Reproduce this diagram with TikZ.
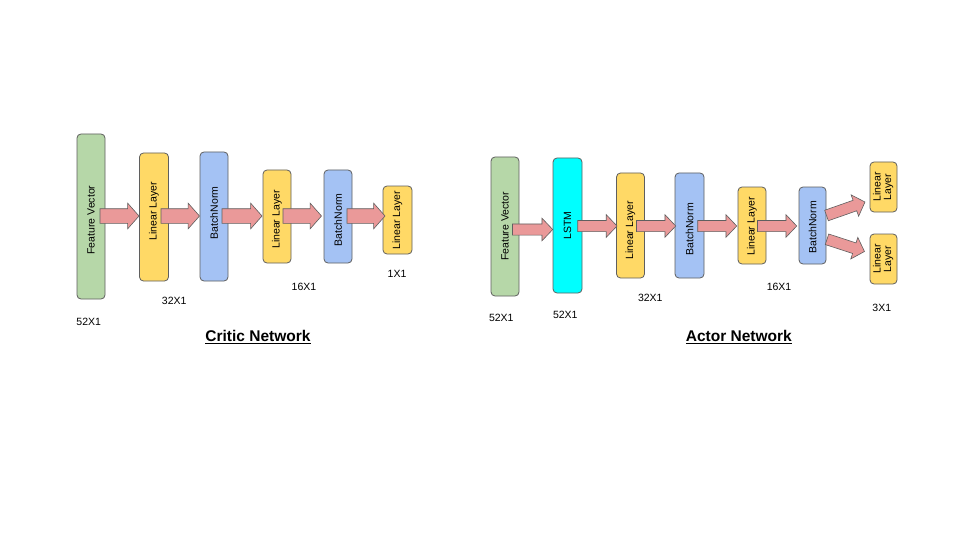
\documentclass[tikz,border=0pt]{standalone}
\usepackage{fontspec}
\setmainfont{Liberation Sans}
\usepackage{graphicx}
\usetikzlibrary{shapes.arrows,calc}
\definecolor{cgreen}{HTML}{B6D7A8}
\definecolor{cyellow}{HTML}{FFD966}
\definecolor{cblue}{HTML}{A4C2F4}
\definecolor{ccyan}{HTML}{00FFFF}
\definecolor{carrow}{HTML}{EA9999}
\definecolor{cstroke}{HTML}{5F5F5F}
\newcommand\blockarr[3][]{%
  \path let \p1=(#2), \p2=(#3), \n1={atan2(\y2-\y1,\x2-\x1)}, \n2={veclen(\x2-\x1,\y2-\y1)} in
    node[#1, minimum height=\n2, rotate=\n1, anchor=tail] at (\p1) {};}
% vertical text, shifted down by #1 pt
\newcommand\vtext[2][0]{\rotatebox{90}{\kern-#1pt #2\kern#1pt}}
\begin{document}
\begin{tikzpicture}[x=1pt,y=-1pt,
  box/.style={draw=cstroke, line width=0.8pt, rounded corners=4pt, inner sep=0pt,
    font=\fontsize{10.5}{12}\selectfont},
  lbl/.style={font=\fontsize{10.5}{12}\selectfont, inner sep=0pt},
  ttl/.style={font=\fontsize{15.5}{18}\selectfont\bfseries, inner sep=0pt},
  barrowc/.style={single arrow, draw=cstroke, fill=carrow, line width=0.6pt,
    inner xsep=0pt, inner ysep=7pt, single arrow head extend=5.5pt,
    single arrow tip angle=97, single arrow head indent=0pt, outer sep=0pt},
  barrowa/.style={barrowc, inner ysep=5.25pt, single arrow head extend=5.75pt,
    single arrow tip angle=93}]
\useasboundingbox[fill=white] (0,0) rectangle (960,540);

% ---------------- Critic network ----------------
\node[box, fill=cgreen,  minimum width=28, minimum height=165] (fv1) at (91,216.5)  {\vtext[3.5]{Feature Vector}};
\node[box, fill=cyellow, minimum width=29, minimum height=128] (ll1) at (154,217)   {\vtext[-6]{Linear Layer}};
\node[box, fill=cblue,   minimum width=28, minimum height=129] (bn1) at (214,216.5) {\vtext[-3.5]{BatchNorm}};
\node[box, fill=cyellow, minimum width=28, minimum height=93]  (ll2) at (277,216.5) {\vtext[3]{Linear Layer}};
\node[box, fill=cblue,   minimum width=28, minimum height=93]  (bn2) at (338,216.5) {\vtext[3.5]{BatchNorm}};
\node[box, fill=cyellow, minimum width=29, minimum height=68]  (ll3) at (397.5,220) {\vtext{Linear Layer}};

\coordinate (ca1s) at (100,216);   \coordinate (ca1e) at (139,216);
\coordinate (ca2s) at (161,216);   \coordinate (ca2e) at (199.5,216);
\coordinate (ca3s) at (222,216);   \coordinate (ca3e) at (262,216);
\coordinate (ca4s) at (283,216);   \coordinate (ca4e) at (321.5,216);
\coordinate (ca5s) at (347,216);   \coordinate (ca5e) at (385,216);
\blockarr[barrowc]{ca1s}{ca1e}
\blockarr[barrowc]{ca2s}{ca2e}
\blockarr[barrowc]{ca3s}{ca3e}
\blockarr[barrowc]{ca4s}{ca4e}
\blockarr[barrowc]{ca5s}{ca5e}

\node[lbl] (c52) at (88.7,321.7) {52X1};
\node[lbl] (c32) at (174.2,300.7) {32X1};
\node[lbl] (c16) at (304,287.3) {16X1};
\node[lbl] (c1)  at (397,274) {1X1};
\node[ttl] (ctitle) at (258,337) {\underline{Critic Network}};

% ---------------- Actor network ----------------
\node[box, fill=cgreen,  minimum width=28, minimum height=139] (fv2) at (505,226.5)   {\vtext{Feature Vector}};
\node[box, fill=ccyan,   minimum width=29, minimum height=135] (lstm) at (567.5,225.5) {\vtext{LSTM}};
\node[box, fill=cyellow, minimum width=28, minimum height=105] (al1) at (630.5,225.5)  {\vtext[5]{Linear Layer}};
\node[box, fill=cblue,   minimum width=29, minimum height=105] (ab1) at (689.5,225.5)  {\vtext[3.7]{BatchNorm}};
\node[box, fill=cyellow, minimum width=28, minimum height=77]  (al2) at (752,225.5)    {\vtext[1]{Linear Layer}};
\node[box, fill=cblue,   minimum width=27, minimum height=77]  (ab2) at (812.5,225.5)  {\vtext[2]{BatchNorm}};
\node[box, fill=cyellow, minimum width=27, minimum height=50]  (ao1) at (883.5,187)    {\vtext{\begin{tabular}{@{}c@{}}Linear\\[-1.5pt]Layer\end{tabular}}};
\node[box, fill=cyellow, minimum width=27, minimum height=50]  (ao2) at (883.5,259)    {\vtext{\begin{tabular}{@{}c@{}}Linear\\[-1.5pt]Layer\end{tabular}}};

\coordinate (aa1s) at (512.5,229.5); \coordinate (aa1e) at (552.7,229.5);
\coordinate (aa2s) at (577.7,226);   \coordinate (aa2e) at (617,226);
\coordinate (aa3s) at (636.5,226);   \coordinate (aa3e) at (675.7,226);
\coordinate (aa4s) at (697.7,226);   \coordinate (aa4e) at (736.7,226);
\coordinate (aa5s) at (757.5,226);   \coordinate (aa5e) at (796.7,226);
\coordinate (aa6s) at (826.5,215.5); \coordinate (aa6e) at (865,202);
\coordinate (aa7s) at (827,239.3);   \coordinate (aa7e) at (864.5,251.5);
\blockarr[barrowa]{aa1s}{aa1e}
\blockarr[barrowa]{aa2s}{aa2e}
\blockarr[barrowa]{aa3s}{aa3e}
\blockarr[barrowa]{aa4s}{aa4e}
\blockarr[barrowa]{aa5s}{aa5e}
\blockarr[barrowa]{aa6s}{aa6e}
\blockarr[barrowa]{aa7s}{aa7e}

\node[lbl] (a52a) at (501.3,318.3) {52X1};
\node[lbl] (a52b) at (565.3,315) {52X1};
\node[lbl] (a32)  at (650.3,297.7) {32X1};
\node[lbl] (a16)  at (779,287) {16X1};
\node[lbl] (a3)   at (881.8,308.3) {3X1};
\node[ttl] (atitle) at (738.8,337) {\underline{Actor Network}};
\end{tikzpicture}
\end{document}
